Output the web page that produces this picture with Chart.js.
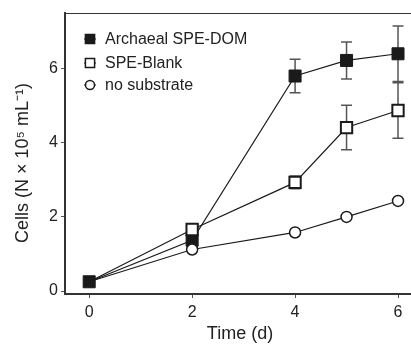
<!DOCTYPE html>
<html>
<head>
<meta charset="utf-8">
<script src="https://cdn.jsdelivr.net/npm/chart.js@4"></script>
<style>
  html, body { margin: 0; padding: 0; background: #fff; overflow: hidden; }
  #wrap { width: 411px; height: 345px; overflow: hidden; }
</style>
</head>
<body>
<div id="wrap"><canvas id="chart" width="425" height="345"></canvas></div>
<script>
const days = [0, 2, 4, 5, 6];
const archaeal = [0.25, 1.37, 5.8, 6.22, 6.4];
const archaealErr = [0, 0, 0.45, 0.5, 0.75];
const blank = [0.25, 1.66, 2.93, 4.41, 4.87];
const blankErr = [0, 0, 0.17, 0.6, 0.75];
const noSubstrate = [0.25, 1.12, 1.58, 2.0, 2.43];
const noSubstrateErr = [0, 0, 0, 0, 0];
const xTicks = [0, 2, 4, 6];
const yTicks = [0, 2, 4, 6];
const seriesNames = ['Archaeal SPE-DOM', 'SPE-Blank', 'no substrate'];

const font = 'Liberation Sans, Arial, sans-serif';
const ink = '#1a1a1a';

const points = (ys) => days.map((d, i) => ({ x: d, y: ys[i] }));

const errorBars = {
  id: 'errorBars',
  beforeDatasetsDraw(chart) {
    const { ctx, scales: { x, y } } = chart;
    ctx.save();
    ctx.strokeStyle = '#555';
    ctx.lineWidth = 1.5;
    chart.data.datasets.forEach((ds) => {
      ds.err.forEach((e, i) => {
        if (!e) return;
        const px = x.getPixelForValue(days[i]);
        const top = y.getPixelForValue(ds.data[i].y + e);
        const bot = y.getPixelForValue(ds.data[i].y - e);
        ctx.beginPath();
        ctx.moveTo(px, top); ctx.lineTo(px, bot);
        ctx.moveTo(px - 5.5, top); ctx.lineTo(px + 5.5, top);
        ctx.moveTo(px - 5.5, bot); ctx.lineTo(px + 5.5, bot);
        ctx.stroke();
      });
    });
    ctx.restore();
  }
};

const frameAndText = {
  id: 'frameAndText',
  afterDraw(chart) {
    const { ctx, chartArea: a } = chart;
    ctx.save();
    // top spine
    ctx.strokeStyle = '#333';
    ctx.lineWidth = 1;
    ctx.beginPath();
    ctx.moveTo(a.left, a.top + 0.5);
    ctx.lineTo(chart.width, a.top + 0.5);
    ctx.stroke();

    // legend
    const rows = [39, 63, 85];
    ctx.font = '16px ' + font;
    ctx.textBaseline = 'middle';
    chart.data.datasets.forEach((ds, i) => {
      const yy = rows[i];
      ctx.strokeStyle = ink;
      ctx.lineWidth = 1;
      ctx.beginPath();
      ctx.moveTo(84, yy); ctx.lineTo(96, yy);
      ctx.stroke();
      ctx.fillStyle = ds.pointBackgroundColor;
      ctx.strokeStyle = ink;
      ctx.lineWidth = 1.5;
      Chart.helpers.drawPoint(ctx, {
        pointStyle: ds.pointStyle,
        radius: ds.pointStyle === 'rect' ? 6.5 : 4.5,
        rotation: 0,
        borderWidth: 1.5
      }, 90, yy);
      ctx.fillStyle = '#222';
      ctx.fillText(ds.label, 105, yy + 1);
    });

    // y axis title
    ctx.translate(23, 163);
    ctx.rotate(-Math.PI / 2);
    ctx.textAlign = 'center';
    ctx.font = '18px ' + font;
    ctx.fillText('Cells (N \u00d7 10\u2075 mL\u207b\u00b9)', 0, 0);
    ctx.restore();
  }
};

new Chart(document.getElementById('chart'), {
  type: 'line',
  data: {
    datasets: [
      {
        label: seriesNames[0],
        data: points(archaeal),
        err: archaealErr,
        order: 3,
        borderColor: ink,
        borderWidth: 1.2,
        pointStyle: 'rect',
        pointRadius: 8.5,
        pointBackgroundColor: ink,
        pointBorderColor: ink,
        pointBorderWidth: 1,
      },
      {
        label: seriesNames[1],
        data: points(blank),
        err: blankErr,
        order: 2,
        borderColor: ink,
        borderWidth: 1.2,
        pointStyle: 'rect',
        pointRadius: [0, 8, 8, 8, 8],
        pointBackgroundColor: '#fff',
        pointBorderColor: ink,
        pointBorderWidth: 2,
      },
      {
        label: seriesNames[2],
        data: points(noSubstrate),
        err: noSubstrateErr,
        order: 1,
        borderColor: ink,
        borderWidth: 1.2,
        pointStyle: 'circle',
        pointRadius: [0, 5.5, 5.5, 5.5, 5.5],
        pointBackgroundColor: '#fff',
        pointBorderColor: ink,
        pointBorderWidth: 1.5,
      },
    ],
  },
  options: {
    responsive: false,
    animation: false,
    events: [],
    clip: false,
    layout: { padding: { left: 0, right: 0, top: 13, bottom: 0 } },
    plugins: {
      legend: { display: false },
      tooltip: { enabled: false },
    },
    scales: {
      x: {
        type: 'linear',
        min: -0.47,
        max: 6.33,
        afterFit: (s) => { s.height = 51; },
        afterBuildTicks: (s) => { s.ticks = xTicks.map((v) => ({ value: v })); },
        border: { display: true, color: '#333', width: 2 },
        grid: { drawOnChartArea: false, drawTicks: true, tickLength: 4, color: '#555', lineWidth: 1 },
        ticks: { font: { family: font, size: 16 }, color: '#222', padding: 5 },
        title: {
          display: true,
          text: 'Time (d)',
          font: { family: font, size: 18 },
          color: '#222',
          padding: { top: 0, bottom: 0 },
        },
      },
      y: {
        min: -0.08,
        max: 7.5,
        afterFit: (s) => { s.width = 65; },
        afterBuildTicks: (s) => { s.ticks = yTicks.map((v) => ({ value: v })); },
        border: { display: true, color: '#333', width: 2 },
        grid: { drawOnChartArea: false, drawTicks: true, tickLength: 4, color: '#555', lineWidth: 1 },
        ticks: { font: { family: font, size: 16 }, color: '#222', padding: 3 },
      },
    },
  },
  plugins: [errorBars, frameAndText],
});
</script>
</body>
</html>
